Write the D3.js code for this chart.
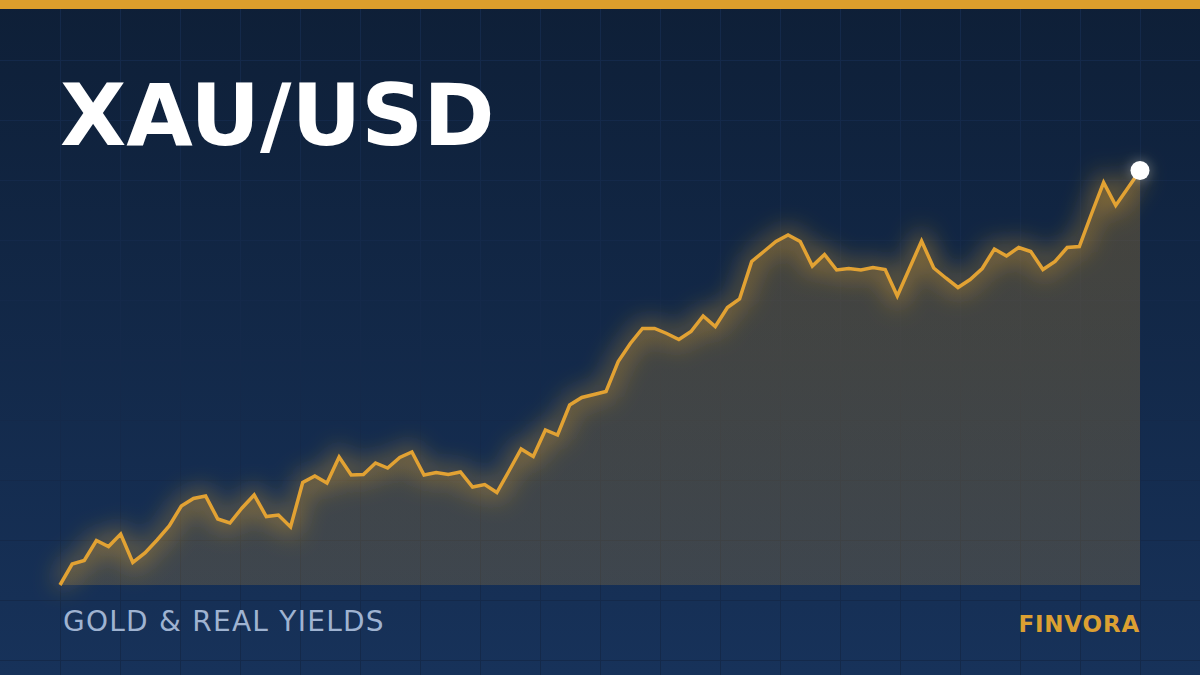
<!DOCTYPE html>
<html>
<head>
<meta charset="utf-8">
<script src="https://cdn.jsdelivr.net/npm/d3@7"></script>
<style>
  html, body { margin: 0; padding: 0; background: #0f203a; }
  svg { display: block; }
</style>
</head>
<body>
<svg id="chart" width="1200" height="675"></svg>
<script>
// ---- data ----
const title = "XAU/USD";
const subtitle = "GOLD & REAL YIELDS";
const brand = "FINVORA";
const periods = d3.range(90); // sequential observation index
const prices = [
  1800, 1842, 1849, 1889, 1877, 1902, 1845, 1864, 1890, 1918,
  1958, 1973, 1978, 1932, 1924, 1954, 1980, 1937, 1940, 1916,
  2005, 2018, 2004, 2056, 2020, 2021, 2044, 2034, 2055, 2066,
  2020, 2025, 2021, 2026, 1996, 2001, 1985, 2028, 2072, 2057,
  2110, 2100, 2160, 2175, 2181, 2187, 2247, 2283, 2313, 2313,
  2303, 2291, 2307, 2338, 2317, 2355, 2372, 2447, 2467, 2487,
  2500, 2487, 2438, 2461, 2430, 2433, 2430, 2435, 2431, 2378,
  2433, 2488, 2434, 2414, 2395, 2411, 2433, 2472, 2458, 2475,
  2467, 2431, 2447, 2475, 2477, 2542, 2605, 2559, 2594, 2629
];

const W = 1200, H = 675;
const svg = d3.select("#chart");
const defs = svg.append("defs");

const bg = defs.append("linearGradient").attr("id", "bg")
  .attr("x1", 0).attr("y1", 0).attr("x2", 0).attr("y2", 1);
bg.append("stop").attr("offset", "0%").attr("stop-color", "#0e1f37");
bg.append("stop").attr("offset", "100%").attr("stop-color", "#17325a");

const areaGrad = defs.append("linearGradient").attr("id", "areaGrad")
  .attr("x1", 0).attr("y1", 0).attr("x2", 0).attr("y2", 1);
areaGrad.append("stop").attr("offset", "0%").attr("stop-color", "#e0a030").attr("stop-opacity", 0.25);
areaGrad.append("stop").attr("offset", "100%").attr("stop-color", "#e0a030").attr("stop-opacity", 0.2);

const blurOnly = defs.append("filter").attr("id", "blur")
  .attr("filterUnits", "userSpaceOnUse")
  .attr("x", 0).attr("y", 0).attr("width", W).attr("height", H);
blurOnly.append("feGaussianBlur").attr("stdDeviation", 12);

const blurDot = defs.append("filter").attr("id", "blurDot")
  .attr("filterUnits", "userSpaceOnUse")
  .attr("x", 0).attr("y", 0).attr("width", W).attr("height", H);
blurDot.append("feGaussianBlur").attr("stdDeviation", 6);

// background
svg.append("rect").attr("width", W).attr("height", H).attr("fill", "url(#bg)");

// grid
const gridX = d3.range(60, W, 60);
const gridY = d3.range(60, H, 60);
const grid = svg.append("g").attr("stroke", "#14294a").attr("stroke-width", 1);
grid.selectAll("line.v").data(gridX).join("line")
  .attr("x1", d => d + 0.5).attr("x2", d => d + 0.5).attr("y1", 0).attr("y2", H);
grid.selectAll("line.h").data(gridY).join("line")
  .attr("y1", d => d + 0.5).attr("y2", d => d + 0.5).attr("x1", 0).attr("x2", W);

// top bar
svg.append("rect").attr("x", 0).attr("y", 0).attr("width", W).attr("height", 9).attr("fill", "#dc9e2c");

// scales
const x = d3.scaleLinear().domain([0, periods.length - 1]).range([60, 1140]);
const y = d3.scaleLinear().domain([1800, 2629]).range([585, 170.5]);

const data = periods.map((p, i) => ({ p, v: prices[i] }));

const area = d3.area().x(d => x(d.p)).y0(y(1800)).y1(d => y(d.v));
const line = d3.line().x(d => x(d.p)).y(d => y(d.v));

svg.append("path").datum(data).attr("d", area).attr("fill", "url(#areaGrad)");

// glow under line
svg.append("path").datum(data).attr("d", line)
  .attr("fill", "none").attr("stroke", "#e6a732").attr("stroke-width", 12)
  .attr("stroke-opacity", 0.5).attr("filter", "url(#blur)");

svg.append("path").datum(data).attr("d", line)
  .attr("fill", "none").attr("stroke", "#e2a233").attr("stroke-width", 3.5)
  .attr("stroke-linejoin", "miter").attr("stroke-linecap", "butt");

// end dot
const last = data[data.length - 1];
svg.append("circle").attr("cx", x(last.p)).attr("cy", y(last.v)).attr("r", 10)
  .attr("fill", "#ffffff").attr("opacity", 0.3).attr("filter", "url(#blurDot)");
svg.append("circle").attr("cx", x(last.p)).attr("cy", y(last.v)).attr("r", 9.5)
  .attr("fill", "#ffffff");

// texts
svg.append("text").attr("x", 60).attr("y", 145)
  .attr("font-family", "DejaVu Sans").attr("font-weight", "bold").attr("font-size", 86)
  .attr("fill", "#ffffff").text(title);

svg.append("text").attr("x", 63).attr("y", 631)
  .attr("font-family", "DejaVu Sans").attr("font-size", 28).attr("letter-spacing", 1.25)
  .attr("fill", "#9fb3d1").text(subtitle);

svg.append("text").attr("x", 1140).attr("y", 632).attr("text-anchor", "end")
  .attr("font-family", "DejaVu Sans").attr("font-weight", "bold").attr("font-size", 23)
  .attr("letter-spacing", 0.8)
  .attr("fill", "#dca032").text(brand);
</script>
</body>
</html>
